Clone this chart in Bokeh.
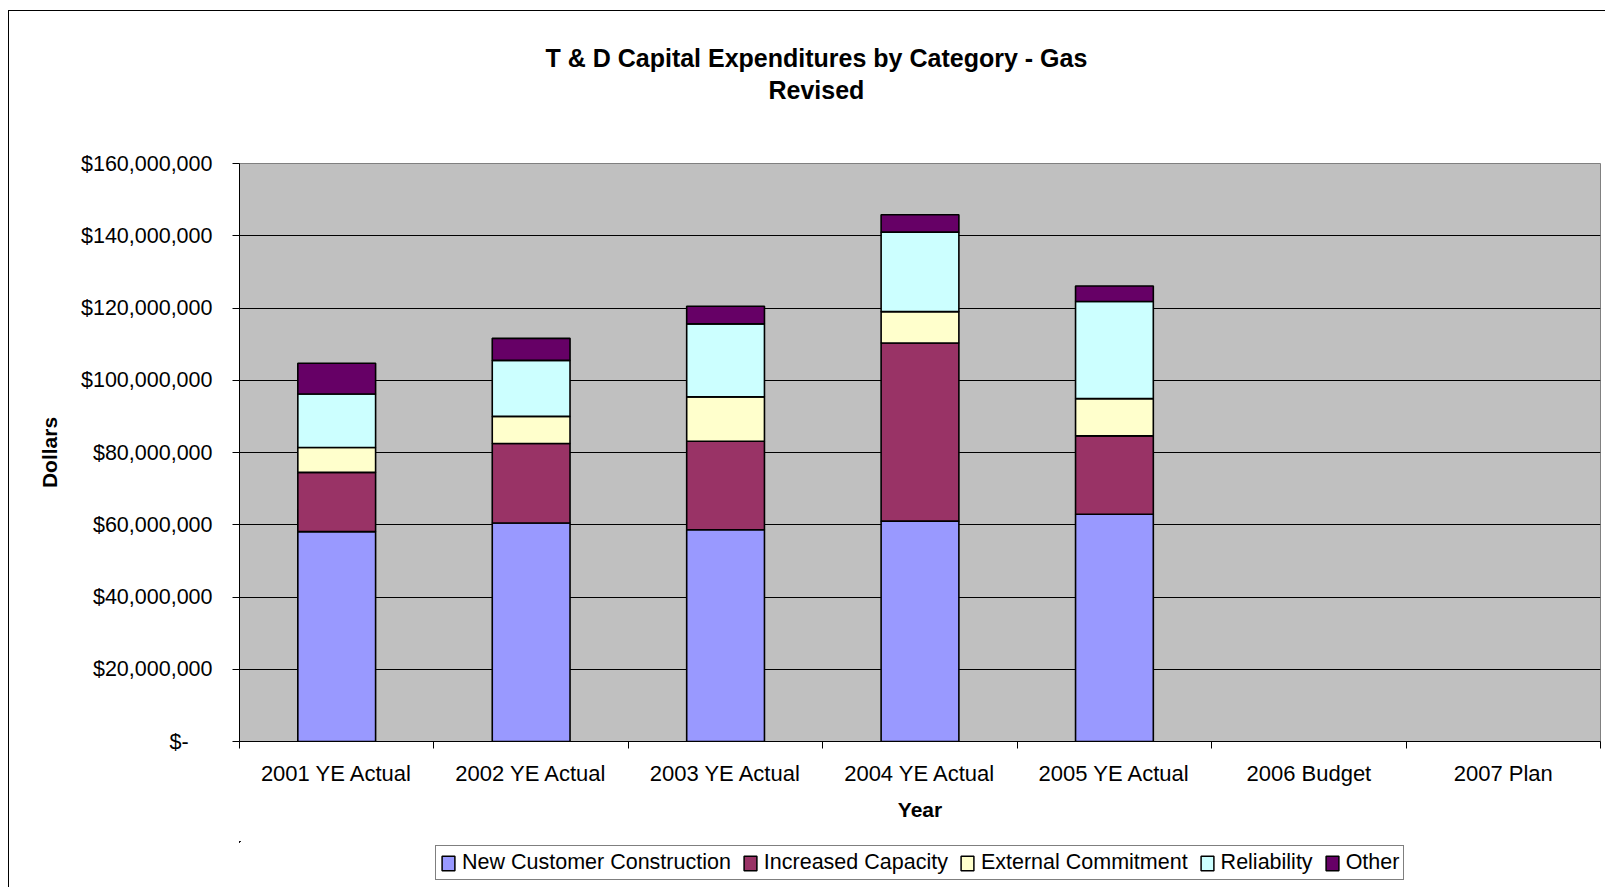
from bokeh.plotting import figure
from bokeh.layouts import column
from bokeh.models import (ColumnDataSource, Range1d, FixedTicker, CustomJSTickFormatter,
                          Legend, LegendItem, Title)
from bokeh.embed import file_html
from bokeh.resources import INLINE

# ---------------- data ----------------
categories = ["2001 YE Actual", "2002 YE Actual", "2003 YE Actual", "2004 YE Actual",
              "2005 YE Actual", "2006 Budget", "2007 Plan"]
series_names = ["New Customer Construction", "Increased Capacity", "External Commitment",
                "Reliability", "Other"]
new_customer = [58.1e6, 60.5e6, 58.6e6, 61.0e6, 62.9e6]
increased_capacity = [16.4e6, 22.0e6, 24.5e6, 49.3e6, 21.7e6]
external_commitment = [6.9e6, 7.5e6, 12.3e6, 8.7e6, 10.3e6]
reliability = [14.8e6, 15.5e6, 20.2e6, 22.0e6, 26.9e6]
other = [8.5e6, 6.1e6, 4.9e6, 4.8e6, 4.3e6]
y_ticks = [0, 20e6, 40e6, 60e6, 80e6, 100e6, 120e6, 140e6, 160e6]

colors = ["#9999FF", "#993366", "#FFFFCC", "#CCFFFF", "#660066"]
FONT = "Liberation Sans"

keys = ["ncc", "ic", "ec", "rel", "oth"]
src = ColumnDataSource(dict(
    x=[i + 0.5 for i in range(len(new_customer))],
    ncc=new_customer, ic=increased_capacity, ec=external_commitment,
    rel=reliability, oth=other,
))

# ---------------- main chart ----------------
p = figure(width=1596, height=830, frame_width=1361, frame_height=578,
           output_backend="svg", toolbar_location=None,
           x_range=Range1d(0, len(categories)), y_range=Range1d(0, y_ticks[-1]),
           min_border_left=230, min_border_right=5, min_border_top=152, min_border_bottom=100)
p.background_fill_color = "#C0C0C0"
p.border_fill_color = "white"
p.outline_line_color = "#808080"
p.outline_line_width = 1

p.vbar_stack(keys, x="x", width=0.4, source=src,
             fill_color=colors, line_color="black", line_width=1.6)

# x axis
p.xaxis.ticker = FixedTicker(ticks=[i + 0.5 for i in range(len(categories))],
                             minor_ticks=list(range(len(categories) + 1)))
p.xaxis.formatter = CustomJSTickFormatter(args=dict(labels=categories),
                                          code="return labels[Math.floor(tick)] || ''")
p.xaxis.major_tick_out = 0
p.xaxis.major_tick_in = 0
p.xaxis.minor_tick_out = 7
p.xaxis.minor_tick_in = 0
p.xaxis.minor_tick_line_color = "black"
p.xaxis.axis_line_color = "black"
p.xaxis.major_label_standoff = 12
p.xaxis.major_label_text_font = FONT
p.xaxis.major_label_text_font_size = "22px"
p.xaxis.major_label_text_color = "black"
p.xaxis.axis_label = "Year"
p.xaxis.axis_label_text_font = FONT
p.xaxis.axis_label_text_font_style = "bold"
p.xaxis.axis_label_text_font_size = "21px"
p.xaxis.axis_label_text_color = "black"
p.xaxis.axis_label_standoff = 9
p.xgrid.visible = False

# y axis
p.yaxis.ticker = FixedTicker(ticks=y_ticks)
p.yaxis.formatter = CustomJSTickFormatter(
    code="if (tick == 0) { return '$-\u00a0\u00a0\u00a0\u00a0'; } "
         "return '$' + Math.round(tick).toLocaleString('en-US');")
p.yaxis.major_tick_out = 7
p.yaxis.major_tick_in = 0
p.yaxis.minor_tick_line_color = None
p.yaxis.axis_line_color = "black"
p.yaxis.major_tick_line_color = "black"
p.yaxis.major_label_standoff = 20
p.yaxis.major_label_text_font = FONT
p.yaxis.major_label_text_font_size = "21.5px"
p.yaxis.major_label_text_color = "black"
p.yaxis.axis_label = "Dollars"
p.yaxis.axis_label_text_font = FONT
p.yaxis.axis_label_text_font_style = "bold"
p.yaxis.axis_label_text_font_size = "21px"
p.yaxis.axis_label_text_color = "black"
p.yaxis.axis_label_standoff = 17
p.ygrid.grid_line_color = "black"
p.ygrid.grid_line_width = 1

# titles (first added sits closest to the plot area); a blank spacer lifts them up
p.add_layout(Title(text=" ", standoff=29, text_font=FONT, text_font_size="25px"), "above")
p.add_layout(Title(text="Revised", align="left", offset=529, standoff=2,
                   text_font=FONT, text_font_style="bold", text_font_size="25px",
                   text_color="black"), "above")
p.add_layout(Title(text="T & D Capital Expenditures by Category - Gas", align="left",
                   offset=306, standoff=2,
                   text_font=FONT, text_font_style="bold", text_font_size="25px",
                   text_color="black"), "above")

# ---------------- legend strip ----------------
# same series renderers, kept outside this strip's visible range: only their legend swatches show
lf = figure(width=1596, height=46, output_backend="svg", toolbar_location=None,
            x_axis_type=None, y_axis_type=None,
            x_range=Range1d(6, 7), y_range=Range1d(-2e8, -1e8),
            min_border_left=0, min_border_right=0, min_border_top=0, min_border_bottom=0)
lf.background_fill_color = "white"
lf.border_fill_color = "white"
lf.outline_line_color = None
lf.xgrid.visible = False
lf.ygrid.visible = False
swatches = lf.vbar_stack(keys, x="x", width=0.4, source=src,
                         fill_color=colors, line_color="black", line_width=1.5)
legend = Legend(items=[LegendItem(label=n, renderers=[r]) for n, r in zip(series_names, swatches)],
                orientation="horizontal", location=(196, 7),
                label_text_font=FONT, label_text_font_size="21.5px", label_text_color="black",
                glyph_width=16, glyph_height=18, label_standoff=6, spacing=11,
                padding=4, margin=0, label_height=22,
                border_line_color="black", border_line_width=1,
                background_fill_color="white", background_fill_alpha=1)
lf.add_layout(legend)

layout = column(p, lf, spacing=0)
layout.styles = {"margin-left": "8px", "margin-top": "10px",
                 "border-left": "1px solid black", "border-top": "1px solid black"}

open("out.html", "w").write(file_html(layout, INLINE))
